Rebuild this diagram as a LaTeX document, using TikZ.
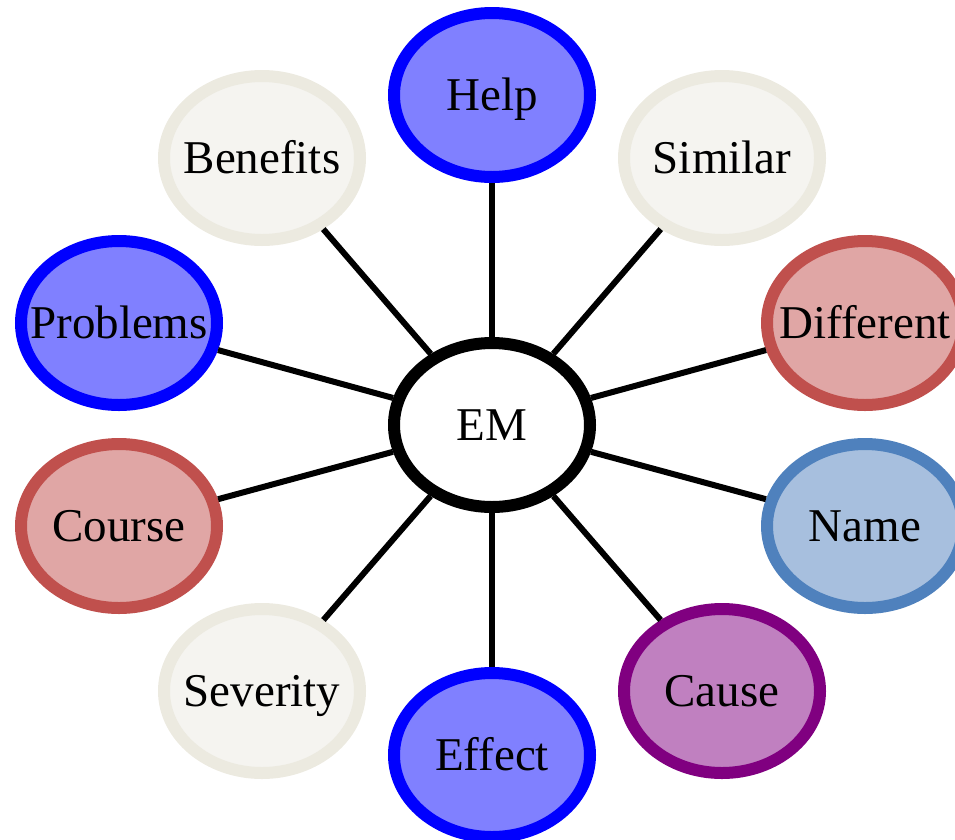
\documentclass[tikz,border=0pt]{standalone}
\usepackage{fontspec}
\setmainfont{Liberation Serif}
\usetikzlibrary{shapes.geometric}
\definecolor{bluedraw}{RGB}{0,0,255}
\definecolor{bluefill}{RGB}{128,128,255}
\definecolor{beigedraw}{RGB}{236,234,224}
\definecolor{beigefill}{RGB}{245,244,240}
\definecolor{reddraw}{RGB}{192,80,77}
\definecolor{redfill}{RGB}{224,166,165}
\definecolor{namedraw}{RGB}{79,129,189}
\definecolor{namefill}{RGB}{167,191,222}
\definecolor{purpdraw}{RGB}{128,0,128}
\definecolor{purpfill}{RGB}{192,128,192}
\begin{document}
\begin{tikzpicture}[x=1pt,y=-1pt,
  bub/.style={ellipse,inner sep=0pt,minimum width=196pt,minimum height=164pt,
    line width=12pt,font=\fontsize{47}{47}\selectfont,text height=31pt,text depth=0pt},
  bluebub/.style={bub,draw=bluedraw,fill=bluefill},
  beigebub/.style={bub,draw=beigedraw,fill=beigefill},
  redbub/.style={bub,draw=reddraw,fill=redfill},
  namebub/.style={bub,draw=namedraw,fill=namefill},
  purpbub/.style={bub,draw=purpdraw,fill=purpfill},
  centerbub/.style={bub,draw=black,fill=white},
  link/.style={line width=6pt,draw=black}]
\useasboundingbox (0,0) rectangle (955,839);
\node[centerbub] (em) at (492,425) {\makebox[0pt]{EM}};
\node[bluebub] (help) at (492,95) {\makebox[0pt]{Help}};
\node[beigebub] (similar) at (722,158) {\makebox[0pt]{Similar}};
\node[redbub] (different) at (865,323) {\makebox[0pt]{Different}};
\node[namebub] (name) at (865,526) {\makebox[0pt]{Name}};
\node[purpbub] (cause) at (722,691) {\makebox[0pt]{Cause}};
\node[bluebub] (effect) at (492,755) {\makebox[0pt]{Effect}};
\node[beigebub] (severity) at (262,691) {\makebox[0pt]{Severity}};
\node[redbub] (course) at (119,526) {\makebox[0pt]{Course}};
\node[bluebub] (problems) at (119,323) {\makebox[0pt]{Problems}};
\node[beigebub] (benefits) at (262,158) {\makebox[0pt]{Benefits}};
\foreach \n in {help,similar,different,name,cause,effect,severity,course,problems,benefits}
  \draw[link] (em) -- (\n);
\end{tikzpicture}
\end{document}
